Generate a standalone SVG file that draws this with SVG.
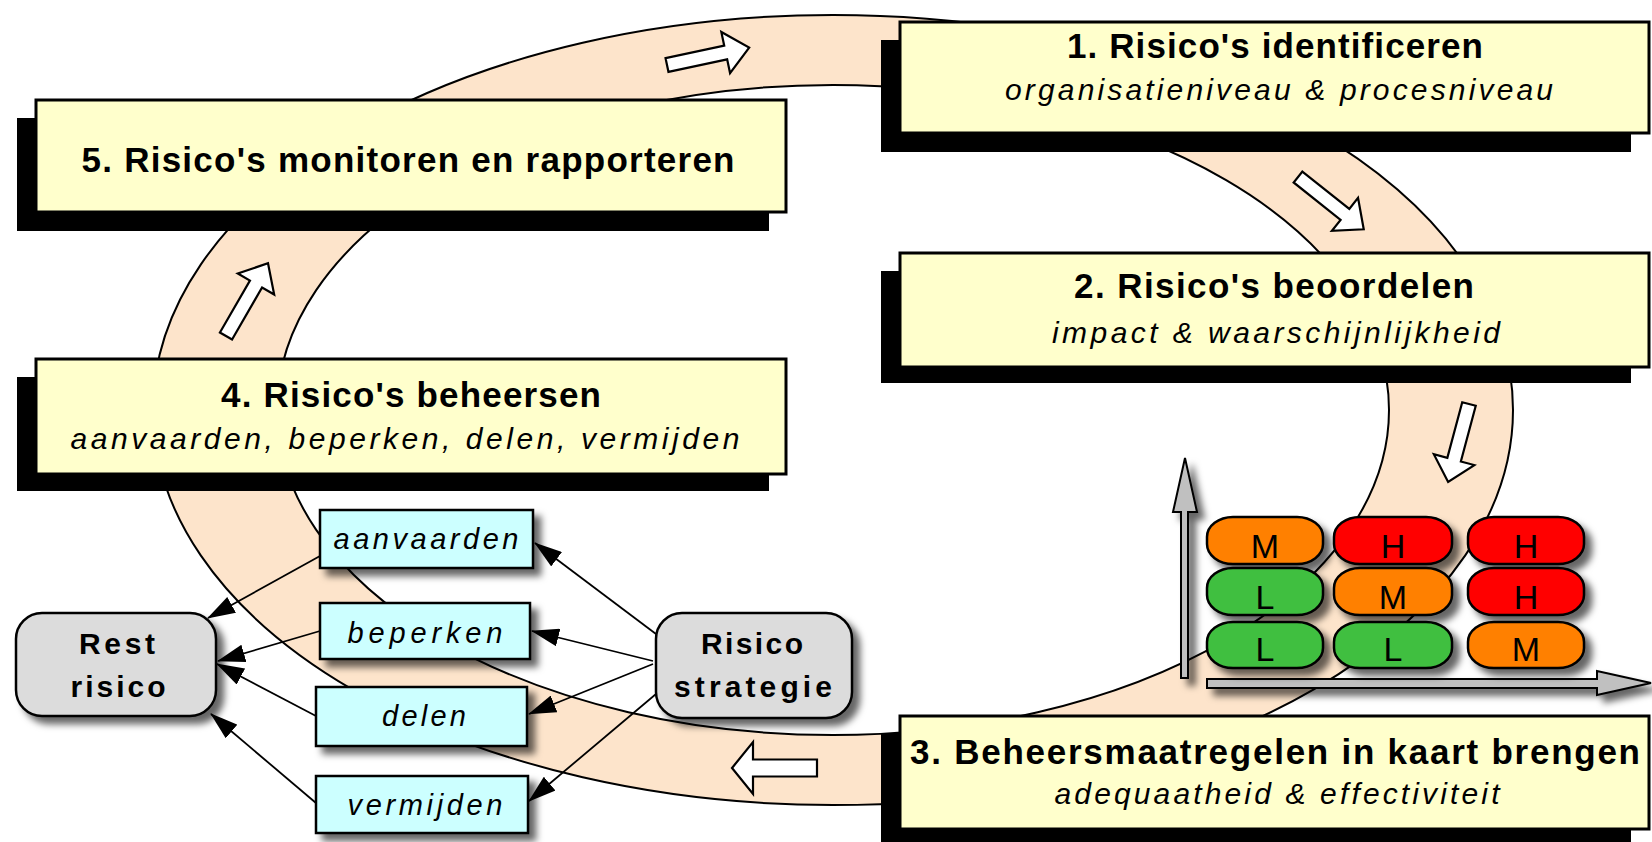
<svg xmlns="http://www.w3.org/2000/svg" width="1652" height="842" viewBox="0 0 1652 842">
<defs>
<style>
.shadow{fill:#000}
.box{fill:#FFFFCC;stroke:#000;stroke-width:3}
.title{font-family:'Liberation Sans',Arial,sans-serif;font-weight:bold;font-size:35px;text-anchor:middle;fill:#000}
.sub{font-family:'Liberation Sans',Arial,sans-serif;font-style:italic;font-size:30px;text-anchor:middle;fill:#000}
.osub{font-family:'Liberation Sans',Arial,sans-serif;font-style:italic;font-size:29px;text-anchor:middle;fill:#000}
.opt{fill:#CCFFFF;stroke:#000;stroke-width:2.5}
.gray{fill:#DCDCDC;stroke:#000;stroke-width:2.5}
.lbl{font-family:'Liberation Sans',Arial,sans-serif;font-weight:bold;font-size:30px;text-anchor:middle;fill:#000}
.pill{stroke:#000;stroke-width:2.5}
.plbl{font-family:'Liberation Sans',Arial,sans-serif;font-size:34px;text-anchor:middle;fill:#000}
.axis{fill:#C0C0C0;stroke:#000;stroke-width:2}
.barrow{fill:#FFFFFF;stroke:#000;stroke-width:2.2;stroke-linejoin:miter}
.conn{fill:none;stroke:#000;stroke-width:1.8}
</style>
<filter id="ds" x="-20%" y="-20%" width="150%" height="160%">
<feDropShadow dx="7" dy="7" stdDeviation="3.5" flood-color="#000" flood-opacity="0.6"/>
</filter>
<marker id="ah" viewBox="0 0 28 18" refX="27" refY="9" markerWidth="28" markerHeight="18" markerUnits="userSpaceOnUse" orient="auto">
<path d="M0,0 L28,9 L0,18 Z" fill="#000"/>
</marker>
<path id="ba" d="M0,-7 L60,-7 L60,-21 L84,0 L60,21 L60,7 L0,7 Z"/>
</defs>

<g id="cycle-band">
<path d="M153,410 a680,395 0 1,0 1360,0 a680,395 0 1,0 -1360,0 Z M277,410 a556,325 0 1,0 1112,0 a556,325 0 1,0 -1112,0 Z" fill="#FDE4CB" fill-rule="evenodd" stroke="#000" stroke-width="2"/>
<use href="#ba" class="barrow" transform="translate(667,65) rotate(-12)"/>
<use href="#ba" class="barrow" transform="translate(1298,177) rotate(38.5)"/>
<use href="#ba" class="barrow" transform="translate(1469,404) rotate(105) scale(0.96,1)"/>
<path class="barrow" d="M817,759.5 L753,759.5 L753,742 L732,768 L753,794 L753,776.5 L817,776.5 Z"/>
<use href="#ba" class="barrow" transform="translate(226,336) rotate(-60)"/>
</g>

<g id="node-1">
<rect class="shadow" x="881" y="40" width="750" height="112"/>
<rect class="box" x="900" y="22" width="749" height="111"/>
<text class="title" x="1275" y="58" textLength="416">1. Risico's identificeren</text>
<text class="sub" x="1279" y="100" textLength="548">organisatieniveau &amp; procesniveau</text>
</g>

<g id="node-2">
<rect class="shadow" x="881" y="271" width="750" height="112"/>
<rect class="box" x="900" y="253" width="749" height="114"/>
<text class="title" x="1274" y="298" textLength="400">2. Risico's beoordelen</text>
<text class="sub" x="1276" y="343" textLength="448">impact &amp; waarschijnlijkheid</text>
</g>

<g id="node-3">
<rect class="shadow" x="881" y="733" width="750" height="112"/>
<rect class="box" x="900" y="716" width="749" height="113"/>
<text class="title" x="1275" y="764" textLength="730">3. Beheersmaatregelen in kaart brengen</text>
<text class="sub" x="1277" y="804" textLength="445">adequaatheid &amp; effectiviteit</text>
</g>

<g id="node-4">
<rect class="shadow" x="17" y="377" width="752" height="114"/>
<rect class="box" x="36" y="359" width="750" height="115"/>
<text class="title" x="411" y="407" textLength="380">4. Risico's beheersen</text>
<text class="sub" x="405" y="449" textLength="669">aanvaarden, beperken, delen, vermijden</text>
</g>

<g id="node-5">
<rect class="shadow" x="17" y="118" width="752" height="113"/>
<rect class="box" x="36" y="100" width="750" height="112"/>
<text class="title" x="408" y="172" textLength="653">5. Risico's monitoren en rapporteren</text>
</g>

<g id="risk-matrix">
<g filter="url(#ds)">
<path class="axis" d="M1181,678 L1181,512 L1173,512 L1185,458 L1197,512 L1188,512 L1188,678 Z"/>
<path class="axis" d="M1207,679 L1597,679 L1597,671 L1651,683 L1597,695 L1597,688 L1207,688 Z"/>
</g>
<g filter="url(#ds)">
<rect class="pill" x="1207" y="517" width="116" height="47" rx="26" ry="20" fill="#FF8000"/>
<rect class="pill" x="1334" y="517" width="118" height="47" rx="26" ry="20" fill="#FF0000"/>
<rect class="pill" x="1468" y="517" width="116" height="47" rx="26" ry="20" fill="#FF0000"/>
<rect class="pill" x="1207" y="568" width="116" height="47" rx="26" ry="20" fill="#40BF40"/>
<rect class="pill" x="1334" y="568" width="118" height="47" rx="26" ry="20" fill="#FF8000"/>
<rect class="pill" x="1468" y="568" width="116" height="47" rx="26" ry="20" fill="#FF0000"/>
<rect class="pill" x="1207" y="622" width="116" height="46" rx="26" ry="20" fill="#40BF40"/>
<rect class="pill" x="1334" y="622" width="118" height="46" rx="26" ry="20" fill="#40BF40"/>
<rect class="pill" x="1468" y="622" width="116" height="46" rx="26" ry="20" fill="#FF8000"/>
</g>
<text class="plbl" x="1265" y="558">M</text>
<text class="plbl" x="1393" y="558">H</text>
<text class="plbl" x="1526" y="558">H</text>
<text class="plbl" x="1265" y="609">L</text>
<text class="plbl" x="1393" y="609">M</text>
<text class="plbl" x="1526" y="609">H</text>
<text class="plbl" x="1265" y="661">L</text>
<text class="plbl" x="1393" y="661">L</text>
<text class="plbl" x="1526" y="661">M</text>
</g>

<g id="node-rest-risico">
<rect class="gray" x="16" y="613" width="200" height="103" rx="26" filter="url(#ds)"/>
<text class="lbl" x="117" y="654" textLength="76">Rest</text>
<text class="lbl" x="118" y="697" textLength="95">risico</text>
</g>

<g id="node-risico-strategie">
<rect class="gray" x="656" y="613" width="196" height="105" rx="26" filter="url(#ds)"/>
<text class="lbl" x="752" y="654" textLength="102">Risico</text>
<text class="lbl" x="753" y="697" textLength="158">strategie</text>
</g>

<g id="node-aanvaarden">
<rect class="opt" x="320" y="510" width="213" height="58" filter="url(#ds)"/>
<text class="osub" x="426" y="549" textLength="185">aanvaarden</text>
</g>
<g id="node-beperken">
<rect class="opt" x="320" y="603" width="210" height="56" filter="url(#ds)"/>
<text class="osub" x="425" y="643" textLength="155">beperken</text>
</g>
<g id="node-delen">
<rect class="opt" x="316" y="687" width="211" height="59" filter="url(#ds)"/>
<text class="osub" x="424" y="726" textLength="84">delen</text>
</g>
<g id="node-vermijden">
<rect class="opt" x="316" y="776" width="212" height="57" filter="url(#ds)"/>
<text class="osub" x="425" y="815" textLength="155">vermijden</text>
</g>

<g id="connectors">
<line class="conn" x1="656" y1="634" x2="535" y2="543" marker-end="url(#ah)"/>
<line class="conn" x1="653" y1="661" x2="532" y2="631" marker-end="url(#ah)"/>
<line class="conn" x1="653" y1="664" x2="529" y2="714" marker-end="url(#ah)"/>
<line class="conn" x1="656" y1="694" x2="529" y2="801" marker-end="url(#ah)"/>
<line class="conn" x1="320" y1="556" x2="208" y2="618" marker-end="url(#ah)"/>
<line class="conn" x1="320" y1="631" x2="218" y2="661" marker-end="url(#ah)"/>
<line class="conn" x1="316" y1="716" x2="217" y2="664" marker-end="url(#ah)"/>
<line class="conn" x1="316" y1="803" x2="211" y2="714" marker-end="url(#ah)"/>
</g>
</svg>
